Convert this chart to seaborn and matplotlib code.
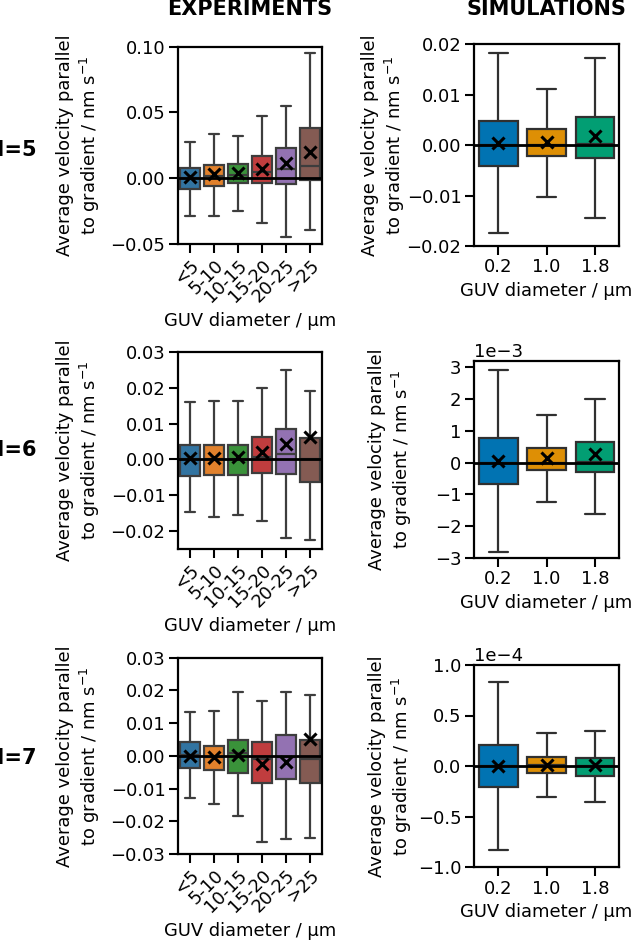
import numpy as np
import pandas as pd
import matplotlib
matplotlib.use('Agg')
import matplotlib.pyplot as plt
import seaborn as sns

# categories
exp_cats = ['<5', '5-10', '10-15', '15-20', '20-25', '>25']
sim_cats = ['0.2', '1.0', '1.8']

# five-number summaries: [min, q1, median, q3, max]
exp_box_ph5 = [[-0.0290, -0.0081, 0.0005, 0.0081, 0.0279],
               [-0.0284, -0.0056, 0.0015, 0.0102, 0.0335],
               [-0.0250, -0.0038, 0.0025, 0.0110, 0.0320],
               [-0.0340, -0.0038, 0.0046, 0.0168, 0.0470],
               [-0.0447, -0.0043, 0.0069, 0.0228, 0.0550],
               [-0.0390, -0.0016, 0.0095, 0.0383, 0.0950]]
exp_mean_ph5 = [0.0010, 0.0033, 0.0038, 0.0069, 0.0114, 0.0197]

exp_box_ph6 = [[-0.0148, -0.0045, 0.0000, 0.0039, 0.0160],
               [-0.0162, -0.0043, 0.0000, 0.0041, 0.0163],
               [-0.0156, -0.0043, 0.0002, 0.0041, 0.0164],
               [-0.0171, -0.0037, 0.0006, 0.0062, 0.0200],
               [-0.0218, -0.0041, 0.0014, 0.0084, 0.0250],
               [-0.0226, -0.0062, 0.0002, 0.0060, 0.0190]]
exp_mean_ph6 = [0.0003, 0.0003, 0.0007, 0.0020, 0.0042, 0.0062]

exp_box_ph7 = [[-0.0128, -0.0036, 0.0004, 0.0042, 0.0133],
               [-0.0148, -0.0042, -0.0004, 0.0029, 0.0136],
               [-0.0184, -0.0052, 0.0008, 0.0048, 0.0195],
               [-0.0263, -0.0082, -0.0010, 0.0043, 0.0167],
               [-0.0255, -0.0072, -0.0005, 0.0063, 0.0196],
               [-0.0251, -0.0082, -0.0009, 0.0048, 0.0186]]
exp_mean_ph7 = [0.0000, -0.0002, 0.0003, -0.0025, -0.0018, 0.0050]

sim_box_ph5 = [[-0.0175, -0.0041, 0.0000, 0.0048, 0.0183],
               [-0.0103, -0.0021, 0.0001, 0.0033, 0.0112],
               [-0.0144, -0.0025, 0.0003, 0.0055, 0.0173]]
sim_mean_ph5 = [0.0005, 0.0007, 0.0019]

sim_box_ph6 = [[-2.82e-3, -0.67e-3, 0.0, 0.785e-3, 2.93e-3],
               [-1.23e-3, -0.24e-3, 0.0, 0.47e-3, 1.49e-3],
               [-1.60e-3, -0.28e-3, 0.03e-3, 0.64e-3, 1.99e-3]]
sim_mean_ph6 = [0.06e-3, 0.15e-3, 0.26e-3]

sim_box_ph7 = [[-0.83e-4, -0.208e-4, 0.0, 0.205e-4, 0.83e-4],
               [-0.304e-4, -0.069e-4, 0.013e-4, 0.089e-4, 0.327e-4],
               [-0.353e-4, -0.096e-4, 0.0, 0.079e-4, 0.343e-4]]
sim_mean_ph7 = [0.0, 0.013e-4, 0.007e-4]

row_labels = ['pH=5', 'pH=6', 'pH=7']

sns.set_style('ticks')
plt.rcParams['font.family'] = ['DejaVu Sans']
for k in ['axes.edgecolor', 'axes.labelcolor', 'xtick.color', 'ytick.color', 'text.color']:
    plt.rcParams[k] = 'black'

ylabel = 'Average velocity parallel\nto gradient / nm s$^{-1}$'
xlabel = 'GUV diameter / µm'
TICK = 13
LAB = 12.9


def panel(ax, cats, boxes, means, palette, sat, ylim, yticks, sci=False, rotate=False, label_x=-0.5):
    df = pd.DataFrame({'cat': np.repeat(cats, 5), 'v': np.concatenate(boxes)})
    sns.boxplot(data=df, x='cat', y='v', hue='cat', order=cats, hue_order=cats,
                palette=palette, saturation=sat, whis=(0, 100), showfliers=False,
                width=0.8, linewidth=1.6, legend=False, ax=ax)
    ax.axhline(0, color='black', lw=2, zorder=2.5)
    sns.pointplot(x=cats, y=means, order=cats, color='black', marker='x', linestyle='none',
                  errorbar=None, markersize=8, markeredgewidth=2.2, ax=ax, zorder=5)
    ax.set_xlim(-0.5, len(cats) - 0.5)
    ax.set_ylim(*ylim)
    ax.set_yticks(yticks)
    if sci:
        ax.ticklabel_format(style='sci', axis='y', scilimits=(0, 0))
        ax.yaxis.get_offset_text().set_fontsize(TICK)
    for s in ax.spines.values():
        s.set_linewidth(1.6)
        s.set_color('black')
    ax.tick_params(direction='out', length=6.5, width=1.5, pad=2.5, labelsize=TICK, color='black')
    if rotate:
        plt.setp(ax.get_xticklabels(), rotation=45, ha='right', rotation_mode='anchor')
    ax.set_xlabel(xlabel, fontsize=LAB)
    ax.set_ylabel(ylabel, fontsize=LAB)
    ax.yaxis.set_label_coords(label_x, 0.5)


W, H = 633, 942
fig = plt.figure(figsize=(W / 100, H / 100), dpi=100)


def add_ax(x0, x1, top, bottom):
    return fig.add_axes([x0 / W, 1 - bottom / H, (x1 - x0) / W, (bottom - top) / H])


left_pal = sns.color_palette('tab10', 6)
right_pal = sns.color_palette('colorblind', 3)

ax = add_ax(178, 322, 46.7, 244)
panel(ax, exp_cats, exp_box_ph5, exp_mean_ph5, left_pal, 0.75, (-0.05, 0.10),
      [-0.05, 0.0, 0.05, 0.10], rotate=True, label_x=-0.528)
ax = add_ax(178, 322, 352, 549)
panel(ax, exp_cats, exp_box_ph6, exp_mean_ph6, left_pal, 0.75, (-0.025, 0.03),
      [-0.02, -0.01, 0.0, 0.01, 0.02, 0.03], rotate=True, label_x=-0.528)
ax = add_ax(178, 322, 657.7, 854)
panel(ax, exp_cats, exp_box_ph7, exp_mean_ph7, left_pal, 0.75, (-0.03, 0.03),
      [-0.03, -0.02, -0.01, 0.0, 0.01, 0.02, 0.03], rotate=True, label_x=-0.528)

ax = add_ax(474, 619, 44.3, 246)
panel(ax, sim_cats, sim_box_ph5, sim_mean_ph5, right_pal, 1, (-0.02, 0.02),
      [-0.02, -0.01, 0.0, 0.01, 0.02], label_x=-0.462)
ax = add_ax(474, 619, 361, 558)
panel(ax, sim_cats, sim_box_ph6, sim_mean_ph6, right_pal, 1, (-3.0e-3, 3.2e-3),
      [-3e-3, -2e-3, -1e-3, 0, 1e-3, 2e-3, 3e-3], sci=True, label_x=-0.414)
ax = add_ax(474, 619, 665, 867)
panel(ax, sim_cats, sim_box_ph7, sim_mean_ph7, right_pal, 1, (-1e-4, 1e-4),
      [-1e-4, -0.5e-4, 0, 0.5e-4, 1e-4], sci=True, label_x=-0.414)

# column titles and row labels (row labels run off the left edge as in the reference)
fig.text(250 / W, 1 - 9 / H, 'EXPERIMENTS', ha='center', va='center', fontsize=15, weight='bold')
fig.text(546 / W, 1 - 9 / H, 'SIMULATIONS', ha='center', va='center', fontsize=15, weight='bold')
for lab, yy in zip(row_labels, [150, 450, 758]):
    fig.text(37 / W, 1 - yy / H, lab, ha='right', va='center', fontsize=15, weight='bold')

fig.savefig('out.png', dpi=100)
